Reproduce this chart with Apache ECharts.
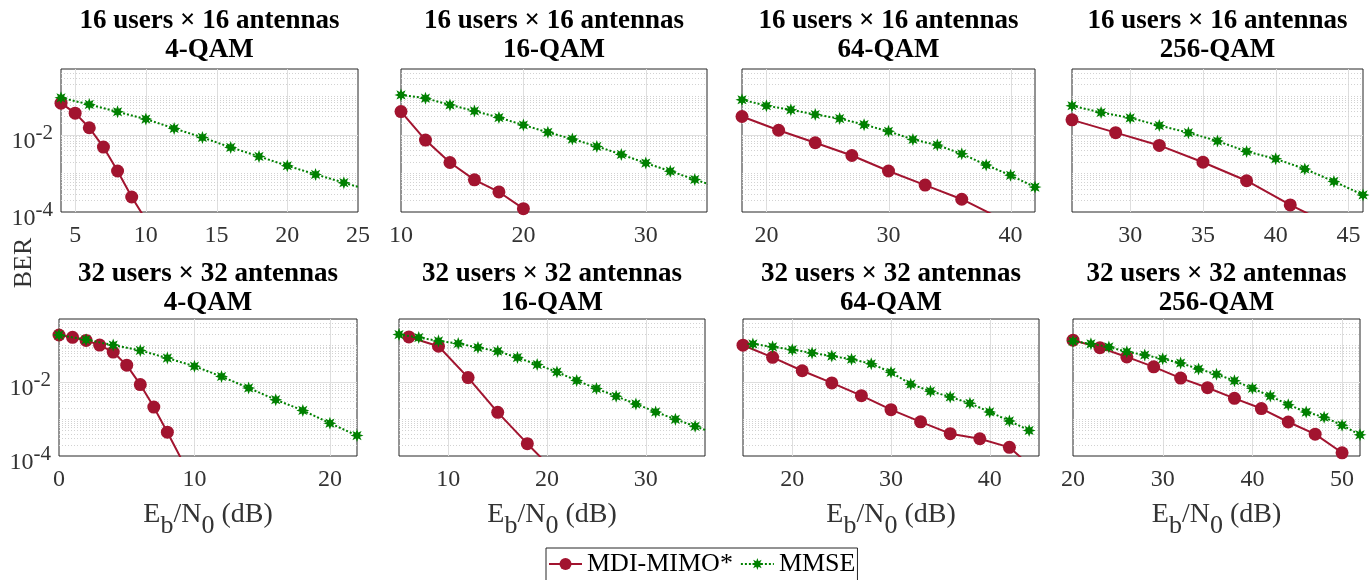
<!DOCTYPE html>
<html>
<head>
<meta charset="utf-8">
<title>BER vs Eb/N0</title>
<script src="https://cdn.jsdelivr.net/npm/echarts@6/dist/echarts.min.js"></script>
<style>
  html, body { margin: 0; padding: 0; background: #fff; }
  #main { width: 1371px; height: 580px; }
</style>
</head>
<body>
<div id="main"></div>
<script>
// titles
var rowTitles = ['16 users \u00d7 16 antennas', '32 users \u00d7 32 antennas'];
var qamNames = ['4-QAM', '16-QAM', '64-QAM', '256-QAM'];

// x ranges and tick labels of the 8 panels
var xMins = [4, 10, 18, 26, 0, 5, 15, 20];
var xMaxs = [25, 35, 42, 46, 22, 36, 45, 52];
var xTickLists = [
  [5, 10, 15, 20, 25], [10, 20, 30], [20, 30, 40], [30, 35, 40, 45],
  [0, 10, 20], [10, 20, 30], [20, 30, 40], [20, 30, 40, 50]
];
// y (BER) range, tick exponents
var berMin = 1e-4;
var berMax = 0.5;
var yTickExp = [-4, -2];

// ---- 16 users x 16 antennas ----
var mdiX_16_4 = [4, 5, 6, 7, 8, 9, 10];
var mdiBer_16_4 = [0.0655, 0.0361, 0.0151, 0.00479, 0.00115, 0.000244, 0.000063];
var mmseX_16_4 = [4, 6, 8, 10, 12, 14, 16, 18, 20, 22, 24, 26];
var mmseBer_16_4 = [0.0899, 0.0605, 0.0392, 0.0253, 0.0145, 0.00849, 0.00469, 0.00274, 0.00157, 0.00094, 0.000573, 0.000347];

var mdiX_16_16 = [10, 12, 14, 16, 18, 20];
var mdiBer_16_16 = [0.0395, 0.00726, 0.00191, 0.000678, 0.00033, 0.000122];
var mmseX_16_16 = [10, 12, 14, 16, 18, 20, 22, 24, 26, 28, 30, 32, 34, 36];
var mmseBer_16_16 = [0.107, 0.0879, 0.059, 0.0412, 0.0277, 0.0178, 0.0115, 0.00771, 0.00498, 0.00308, 0.00184, 0.00114, 0.000692, 0.000427];

var mdiX_16_64 = [18, 21, 24, 27, 30, 33, 36, 39];
var mdiBer_16_64 = [0.0295, 0.013, 0.00618, 0.00289, 0.00115, 0.000497, 0.000214, 0.0000724];
var mmseX_16_64 = [18, 20, 22, 24, 26, 28, 30, 32, 34, 36, 38, 40, 42];
var mmseBer_16_64 = [0.0802, 0.056, 0.044, 0.0333, 0.0261, 0.0182, 0.0122, 0.00755, 0.00537, 0.00319, 0.00165, 0.000887, 0.00044];

var mdiX_16_256 = [26, 29, 32, 35, 38, 41, 44];
var mdiBer_16_256 = [0.0242, 0.0113, 0.00527, 0.00194, 0.000644, 0.000152, 0.0000427];
var mmseX_16_256 = [26, 28, 30, 32, 34, 36, 38, 40, 42, 44, 46];
var mmseBer_16_256 = [0.056, 0.0375, 0.0272, 0.0172, 0.0113, 0.00684, 0.00367, 0.00237, 0.0013, 0.000618, 0.000277];

// ---- 32 users x 32 antennas ----
var mdiX_32_4 = [0, 1, 2, 3, 4, 5, 6, 7, 8, 9];
var mdiBer_32_4 = [0.185, 0.16, 0.132, 0.0989, 0.0638, 0.0283, 0.00847, 0.00209, 0.00044, 0.0000871];
var mmseX_32_4 = [0, 2, 4, 6, 8, 10, 12, 14, 16, 18, 20, 22];
var mmseBer_32_4 = [0.185, 0.138, 0.0989, 0.071, 0.044, 0.0266, 0.014, 0.00687, 0.00331, 0.0017, 0.000771, 0.000356];

var mdiX_32_16 = [6, 9, 12, 15, 18, 21];
var mdiBer_32_16 = [0.164, 0.092, 0.0131, 0.00151, 0.000215, 0.0000331];
var mmseX_32_16 = [5, 7, 9, 11, 13, 15, 17, 19, 21, 23, 25, 27, 29, 31, 33, 35, 37];
var mmseBer_32_16 = [0.19, 0.158, 0.128, 0.109, 0.0847, 0.0675, 0.0455, 0.0294, 0.0186, 0.0109, 0.00661, 0.0041, 0.00254, 0.00155, 0.00098, 0.000634, 0.000407];

var mdiX_32_64 = [15, 18, 21, 24, 27, 30, 33, 36, 39, 42, 45];
var mdiBer_32_64 = [0.098, 0.0461, 0.02, 0.00942, 0.00426, 0.00178, 0.000836, 0.000401, 0.000292, 0.000171, 0.0000339];
var mmseX_32_64 = [16, 18, 20, 22, 24, 26, 28, 30, 32, 34, 36, 38, 40, 42, 44];
var mmseBer_32_64 = [0.106, 0.0887, 0.0743, 0.0608, 0.0499, 0.0409, 0.031, 0.0182, 0.00871, 0.00562, 0.00394, 0.00264, 0.00155, 0.000887, 0.00049];

var mdiX_32_256 = [20, 23, 26, 29, 32, 35, 38, 41, 44, 47, 50];
var mdiBer_32_256 = [0.134, 0.0843, 0.0473, 0.0255, 0.0127, 0.00698, 0.00361, 0.00191, 0.000828, 0.000388, 0.000122];
var mmseX_32_256 = [20, 22, 24, 26, 28, 30, 32, 34, 36, 38, 40, 42, 44, 46, 48, 50, 52];
var mmseBer_32_256 = [0.126, 0.107, 0.0879, 0.0652, 0.0533, 0.042, 0.0324, 0.0222, 0.0161, 0.0108, 0.00671, 0.00416, 0.00243, 0.00153, 0.00112, 0.000678, 0.000372];

var mdiXs = [mdiX_16_4, mdiX_16_16, mdiX_16_64, mdiX_16_256, mdiX_32_4, mdiX_32_16, mdiX_32_64, mdiX_32_256];
var mdiBers = [mdiBer_16_4, mdiBer_16_16, mdiBer_16_64, mdiBer_16_256, mdiBer_32_4, mdiBer_32_16, mdiBer_32_64, mdiBer_32_256];
var mmseXs = [mmseX_16_4, mmseX_16_16, mmseX_16_64, mmseX_16_256, mmseX_32_4, mmseX_32_16, mmseX_32_64, mmseX_32_256];
var mmseBers = [mmseBer_16_4, mmseBer_16_16, mmseBer_16_64, mmseBer_16_256, mmseBer_32_4, mmseBer_32_16, mmseBer_32_64, mmseBer_32_256];

// layout of the plot boxes [left, top, width, height]
var gridRects = [
  [61, 69, 297, 143], [401, 69, 306, 143], [742, 69, 293, 143], [1072, 69, 291, 143],
  [59, 319, 298, 137], [399, 319, 306, 137], [743, 319, 296, 137], [1073, 319, 287, 137]
];
var titleTops = [7, 260];

var RED = '#A2142F';
var GREEN = '#008000';
var SERIF = '"Liberation Serif", "Times New Roman", serif';

function toPts(xs, bers) {
  return xs.map(function (x, i) { return [x, Math.log10(bers[i])]; });
}

function starPath(n, inner) {
  var d = '';
  for (var i = 0; i < 2 * n; i++) {
    var a = Math.PI * i / n - Math.PI / 2;
    var r = i % 2 ? inner : 1;
    d += (i ? 'L' : 'M') + (1 + r * Math.cos(a)).toFixed(3) + ',' + (1 + r * Math.sin(a)).toFixed(3);
  }
  return 'path://' + d + 'Z';
}
var STAR = starPath(8, 0.5);

var yMin = Math.log10(berMin);
var yMax = Math.log10(berMax);

// grid line levels: kind 0 = vertical major, 1 = horizontal major, 2 = horizontal minor
function gridLevels(i) {
  var out = [];
  xTickLists[i].forEach(function (t) {
    if (t > xMins[i] && t < xMaxs[i]) out.push([0, t]);
  });
  for (var e = -4; e <= 0; e++) {
    for (var k = 1; k <= 9; k++) {
      var v = e + Math.log10(k);
      if (v <= yMin + 1e-9 || v >= yMax - 1e-9) continue;
      out.push([k === 1 && yTickExp.indexOf(e) >= 0 ? 1 : 2, v]);
    }
  }
  return out;
}

var myChart = echarts.init(document.getElementById('main'));

var grids = [], xAxes = [], yAxes = [], series = [], graphics = [];

for (var i = 0; i < 8; i++) {
  (function (i) {
    var r = gridRects[i];
    var row = Math.floor(i / 4), col = i % 4;
    grids.push({
      left: r[0], top: r[1], width: r[2], height: r[3],
      show: true, borderColor: '#262626', borderWidth: 1, backgroundColor: '#fff'
    });
    xAxes.push({
      type: 'value', gridIndex: i, min: xMins[i], max: xMaxs[i], interval: 1,
      axisLine: { show: false }, axisTick: { show: false }, splitLine: { show: false },
      axisLabel: {
        margin: 12, fontFamily: SERIF, fontSize: 24, color: '#333',
        formatter: function (v) {
          for (var j = 0; j < xTickLists[i].length; j++) {
            if (Math.abs(xTickLists[i][j] - v) < 1e-6) return String(xTickLists[i][j]);
          }
          return '';
        }
      },
      name: row === 1 ? '{n|E}{s|b}{n|/N}{s|0}{n| (dB)}' : '',
      nameLocation: 'middle', nameGap: 45,
      nameTextStyle: {
        rich: {
          n: { fontFamily: SERIF, fontSize: 28, lineHeight: 28, color: '#333', verticalAlign: 'top' },
          s: { fontFamily: SERIF, fontSize: 26, lineHeight: 26, color: '#333', verticalAlign: 'top', padding: [12, 0, 0, 0] }
        }
      }
    });
    yAxes.push({
      type: 'value', gridIndex: i, min: yMin, max: yMax, interval: 2,
      axisLine: { show: false }, axisTick: { show: false }, splitLine: { show: false },
      axisLabel: {
        show: col === 0, margin: 8, padding: [0, 0, 10, 0],
        formatter: function (v) {
          for (var j = 0; j < yTickExp.length; j++) {
            if (Math.abs(yTickExp[j] - v) < 1e-6) return '{b|10}{s|' + yTickExp[j] + '}';
          }
          return '';
        },
        rich: {
          b: { fontFamily: SERIF, fontSize: 24, lineHeight: 24, color: '#333', verticalAlign: 'top', padding: [12, 0, 0, 0] },
          s: { fontFamily: SERIF, fontSize: 21, lineHeight: 21, color: '#333', verticalAlign: 'top', padding: [5, 0, 0, 0] }
        }
      }
    });
    // grid lines drawn through the axes
    series.push({
      type: 'custom', xAxisIndex: i, yAxisIndex: i, silent: true, z: 1,
      data: gridLevels(i),
      renderItem: function (params, api) {
        var kind = api.value(0), v = api.value(1), a, b;
        if (kind === 0) {
          a = api.coord([v, yMin]); b = api.coord([v, yMax]);
          a[0] = b[0] = Math.round(a[0]) + 0.5;
        } else {
          a = api.coord([xMins[i], v]); b = api.coord([xMaxs[i], v]);
          a[1] = b[1] = Math.round(a[1]) + 0.5;
        }
        return {
          type: 'line',
          shape: { x1: a[0], y1: a[1], x2: b[0], y2: b[1] },
          style: {
            stroke: kind === 2 ? '#d2d2d2' : '#dedede', lineWidth: 1,
            lineDash: kind === 2 ? [1, 2] : null
          }
        };
      }
    });
    series.push({
      type: 'line', name: 'MDI-MIMO*', xAxisIndex: i, yAxisIndex: i, z: 3,
      data: toPts(mdiXs[i], mdiBers[i]),
      symbol: 'circle', symbolSize: 13, showAllSymbol: true,
      lineStyle: { color: RED, width: 2 }, itemStyle: { color: RED },
      emphasis: { disabled: true }
    });
    series.push({
      type: 'line', name: 'MMSE', xAxisIndex: i, yAxisIndex: i, z: 4,
      data: toPts(mmseXs[i], mmseBers[i]),
      symbol: STAR, symbolSize: 13, showAllSymbol: true,
      lineStyle: { color: GREEN, width: 2, type: 'dotted' }, itemStyle: { color: GREEN },
      emphasis: { disabled: true }
    });
    graphics.push({
      type: 'text', x: r[0] + r[2] / 2, y: titleTops[row], silent: true,
      style: {
        text: rowTitles[row] + '\n' + qamNames[col],
        align: 'center', textAlign: 'center', verticalAlign: 'top', textVerticalAlign: 'top',
        fontFamily: SERIF, fontWeight: 'bold', fontSize: 27, lineHeight: 29, fill: '#000'
      }
    });
  })(i);
}

graphics.push({
  type: 'text', x: 24, y: 263, rotation: Math.PI / 2, silent: true,
  style: {
    text: 'BER', align: 'center', textAlign: 'center', verticalAlign: 'middle', textVerticalAlign: 'middle',
    fontFamily: SERIF, fontSize: 26, fill: '#333'
  }
});

var option = {
  animation: false,
  backgroundColor: '#fff',
  grid: grids,
  xAxis: xAxes,
  yAxis: yAxes,
  legend: {
    data: ['MDI-MIMO*', 'MMSE'], left: 546, top: 548, orient: 'horizontal',
    itemWidth: 33, itemHeight: 15, itemGap: 7, padding: [3, 2, 8, 2],
    borderColor: '#262626', borderWidth: 1, backgroundColor: '#fff', selectedMode: false,
    textStyle: { fontFamily: SERIF, fontSize: 26, color: '#000' }
  },
  graphic: graphics,
  series: series
};
myChart.setOption(option);
</script>
</body>
</html>
